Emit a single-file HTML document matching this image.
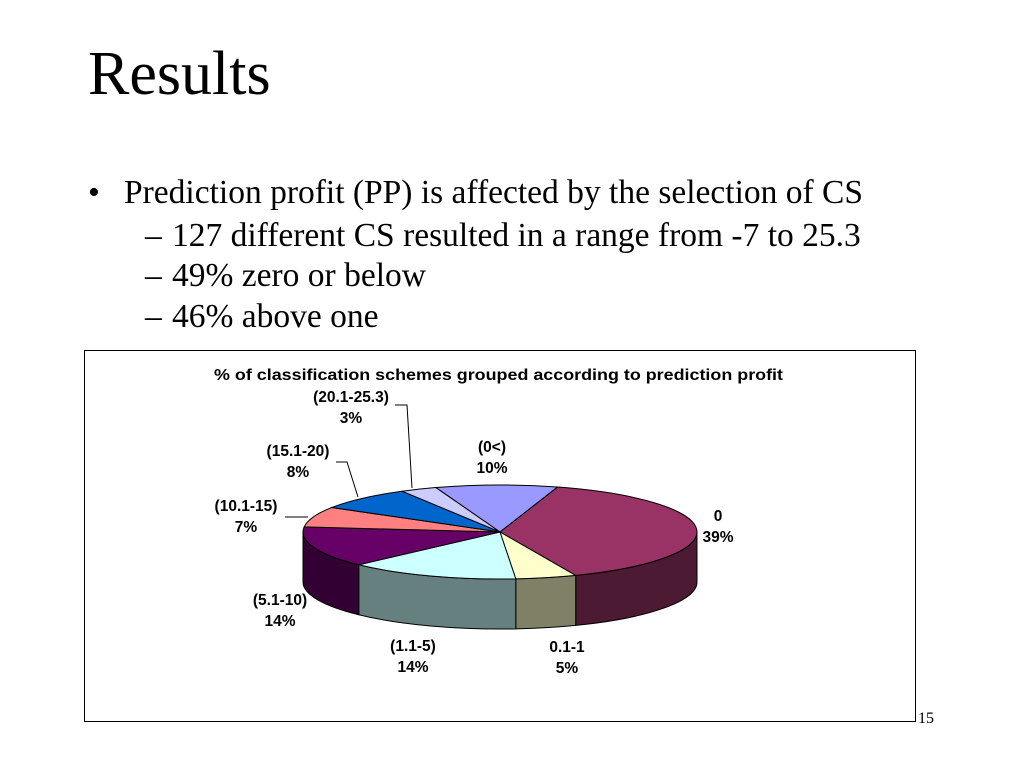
<!DOCTYPE html>
<html><head><meta charset="utf-8">
<style>
body{margin:0;width:1024px;height:768px;background:#fff;position:relative;overflow:hidden;font-family:"Liberation Serif",serif;}
.t{position:absolute;white-space:nowrap;color:#000;line-height:1;}
</style></head><body>
<div class="t" style="left:88px;top:43px;font-size:62px;">Results</div>
<div class="t" style="left:88px;top:176px;font-size:34px;">•</div>
<div class="t" style="left:124px;top:176px;font-size:33.5px;">Prediction profit (PP) is affected by the selection of CS</div>
<div class="t" style="left:145px;top:219px;font-size:33.5px;">–</div>
<div class="t" style="left:172px;top:219px;font-size:33.5px;">127 different CS resulted in a range from -7 to 25.3</div>
<div class="t" style="left:145px;top:259px;font-size:33.5px;">–</div>
<div class="t" style="left:172px;top:259px;font-size:33.5px;">49% zero or below</div>
<div class="t" style="left:145px;top:300px;font-size:33.5px;">–</div>
<div class="t" style="left:172px;top:300px;font-size:33.5px;">46% above one</div>
<div class="t" style="left:918px;top:711px;font-size:16px;">15</div>
<svg id="chart" width="1024" height="768" style="position:absolute;left:0;top:0;">
<rect x="84.5" y="350.5" width="831" height="371" fill="#fff" stroke="#000" stroke-width="1"/>
<text x="214" y="380" textLength="569" lengthAdjust="spacingAndGlyphs" font-family="Liberation Sans, sans-serif" font-weight="bold" font-size="16">% of classification schemes grouped according to prediction profit</text>
</svg>
<script>
const categories=["(0<)","0","0.1-1","(1.1-5)","(5.1-10)","(10.1-15)","(15.1-20)","(20.1-25.3)"];
const values=[10,39,5,14,14,7,8,3];
const pctLabels=["10%","39%","5%","14%","14%","7%","8%","3%"];
const topColors=["#9999FF","#993366","#FFFFCC","#CCFFFF","#660066","#FF8080","#0066CC","#CCCCFF"];
const sideColors=["#4d4d80","#4d1a33","#808066","#668080","#330033","#804040","#003366","#666680"];
const labelPos=[[492,452],[718,521],[567,652],[413,651],[280,605],[246,511],[298,456],[351,402]];
const svg=document.getElementById('chart');
const NS='http://www.w3.org/2000/svg';
const cx=500,cy=532,rx=197,ry=47,depth=50,startDeg=-109;
const total=values.reduce((a,b)=>a+b,0);
function pt(deg,dy){const r=deg*Math.PI/180;return [cx+rx*Math.cos(r),cy+ry*Math.sin(r)+(dy||0)];}
let a=startDeg;const angles=[];
values.forEach(v=>{const a2=a+v/total*360;angles.push([a,a2]);a=a2;});
angles.forEach(([a1,a2],i)=>{
  for(const off of [0,360,-360]){
    let s=Math.max(a1+off,0),e=Math.min(a2+off,180);
    if(e<=s) continue;
    const p1=pt(s),p2=pt(e),p3=pt(e,depth),p4=pt(s,depth);
    const d=`M${p1[0]},${p1[1]} A${rx},${ry} 0 0 1 ${p2[0]},${p2[1]} L${p3[0]},${p3[1]} A${rx},${ry} 0 0 0 ${p4[0]},${p4[1]} Z`;
    const p=document.createElementNS(NS,'path');
    p.setAttribute('d',d);p.setAttribute('fill',sideColors[i]);p.setAttribute('stroke','#000');p.setAttribute('stroke-width','1');
    
    
    svg.appendChild(p);
  }
});
angles.forEach(([a1,a2],i)=>{
  const p1=pt(a1),p2=pt(a2);const large=(a2-a1)>180?1:0;
  const p=document.createElementNS(NS,'path');
  p.setAttribute('d',`M${cx},${cy} L${p1[0]},${p1[1]} A${rx},${ry} 0 ${large} 1 ${p2[0]},${p2[1]} Z`);
  p.setAttribute('fill',topColors[i]);p.setAttribute('stroke','#000');p.setAttribute('stroke-width','1');
  
  
  svg.appendChild(p);
});
const leaders=[[[395,405],[407,405],[412,488]],[[336,462],[347,462],[358,497]],[[285,517],[308,517]]];
leaders.forEach(l=>{
  const pl=document.createElementNS(NS,'polyline');
  pl.setAttribute('points',l.map(q=>q.join(',')).join(' '));
  pl.setAttribute('fill','none');pl.setAttribute('stroke','#000');
  
  
  svg.appendChild(pl);
});
categories.forEach((c,i)=>{
  const [x,y]=labelPos[i];
  [c,pctLabels[i]].forEach((s,k)=>{
    const t=document.createElementNS(NS,'text');
    t.setAttribute('x',x);t.setAttribute('y',y+k*21);t.setAttribute('text-anchor','middle');
    t.setAttribute('font-family','Liberation Sans, sans-serif');t.setAttribute('font-weight','bold');t.setAttribute('font-size','15.5');
    t.textContent=s;
    
    
    svg.appendChild(t);
  });
});
</script>
</body></html>
